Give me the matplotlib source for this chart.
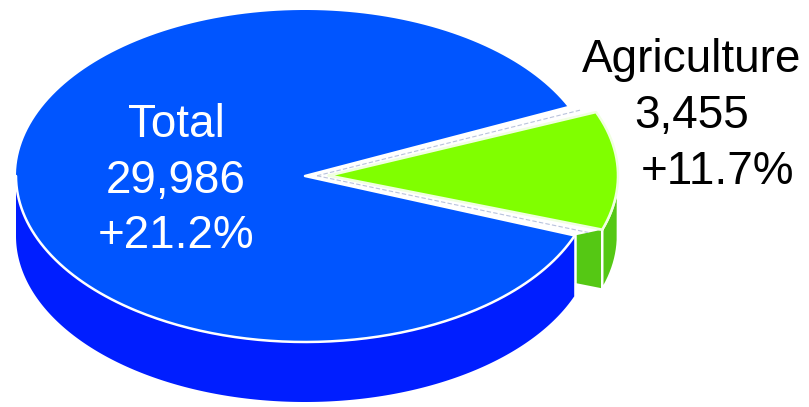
import numpy as np
import matplotlib.pyplot as plt

labels = ["Total", "Agriculture"]
values = [29986, 3455]
counts = ["29,986", "3,455"]
changes = ["+21.2%", "+11.7%"]

# fake 3d pie geometry, in pixels
cx, cy = 305, 176
rx, ry = 289, 166
depth = 60
explode = 24
start = -19  # lower edge of the agriculture wedge, degrees
gap = 2.0    # extra white gap around the pulled-out slice, degrees

top_colors = ["#0055ff", "#80ff00"]
side_colors = ["#001eff", "#55c814"]

share = values[1] / values[0]
g0, g1 = start, start + 360 * share
b0, b1 = g1 + gap, start + 360 - gap


def arc(a, b, ox=0.0, oy=0.0, dz=0.0, n=200):
    t = np.radians(np.linspace(a, b, n))
    return cx + ox + rx * np.cos(t), cy + oy - ry * np.sin(t) + dz


def corner(a, ox=0.0, oy=0.0, dz=0.0):
    t = np.radians(a)
    return cx + ox + rx * np.cos(t), cy + oy - ry * np.sin(t) + dz


fig = plt.figure(figsize=(8.09, 4.07), dpi=100)
ax = fig.add_axes([0, 0, 1, 1])
ax.set_xlim(0, 809)
ax.set_ylim(407, 0)
ax.axis("off")

edge = dict(color="white", lw=1.8, solid_capstyle="round")

# agriculture slice, pulled out
mid = np.radians((g0 + g1) / 2)
ox, oy = explode * np.cos(mid), -explode * np.sin(mid) * ry / rx

# radial face on the lower edge
px, py = corner(g0, ox, oy)
fx = [cx + ox, px, px, cx + ox]
fy = [cy + oy, py, py + depth, cy + oy + depth]
ax.fill(fx, fy, color=side_colors[1], lw=0, zorder=1)
ax.plot(fx + [fx[0]], fy + [fy[0]], zorder=1, **edge)

# outer wall, visible part only
tx, ty = arc(g0, 0, ox, oy)
bx, by = arc(0, g0, ox, oy, depth)
ax.fill(np.r_[tx, bx], np.r_[ty, by], color=side_colors[1], lw=0, zorder=1.5)
ax.plot(np.r_[tx, bx, tx[:1]], np.r_[ty, by, ty[:1]], zorder=1.5, **edge)

# total slice wall
tx, ty = arc(180, b1)
bx, by = arc(b1, 180, dz=depth)
ax.fill(np.r_[tx, bx], np.r_[ty, by], color=side_colors[0], lw=0, zorder=2)
ex, ey = corner(b1)
ax.plot([ex, ex], [ey, ey + depth], zorder=2, **edge)

# total top face
tx, ty = arc(b0, b1)
ax.fill(np.r_[cx, tx], np.r_[cy, ty], color=top_colors[0], lw=0, zorder=3)
fx_, fy_ = arc(180, b1)
ax.plot(fx_, fy_, zorder=3, **edge)
ax.plot([corner(b0)[0], cx, corner(b1)[0]], [corner(b0)[1], cy, corner(b1)[1]],
        zorder=3, **edge)

# keep the lower gap white
kx, ky = corner(b1)
ax.fill([cx, kx, px, cx + ox], [cy, ky, py, cy + oy], color="white", lw=0, zorder=3.2)

# faint seam lines inside the gaps
for a0, a1 in [(g1, b0), (b1 - 360, g0)]:
    am = (a0 + a1) / 2
    sx, sy = corner(am, ox / 2, oy / 2)
    ax.plot([cx + ox / 2, sx], [cy + oy / 2, sy], color="#b9c3dc", lw=0.8,
            ls=(0, (4, 2)), zorder=3.5)

# agriculture top face
tx, ty = arc(g0, g1, ox, oy)
gx = np.r_[cx + ox, tx, cx + ox]
gy = np.r_[cy + oy, ty, cy + oy]
ax.fill(gx, gy, color=top_colors[1], lw=0, zorder=4)
ax.plot(gx, gy, zorder=4, color="#f0ffe0", lw=1.8)

font = dict(family="Liberation Sans", size=33, ha="center", va="baseline", zorder=5)

# total label, on the slice
ax.text(176, 137, labels[0], color="white", **font)
ax.text(176, 193, counts[0], color="white", **font)
ax.text(176, 248, changes[0], color="white", **font)

# agriculture label, outside
ax.text(692, 72, labels[1], color="black", **font)
ax.text(692, 128, counts[1], color="black", **font)
ax.text(718, 184, changes[1], color="black", **font)

fig.savefig("out.png", dpi=100)
